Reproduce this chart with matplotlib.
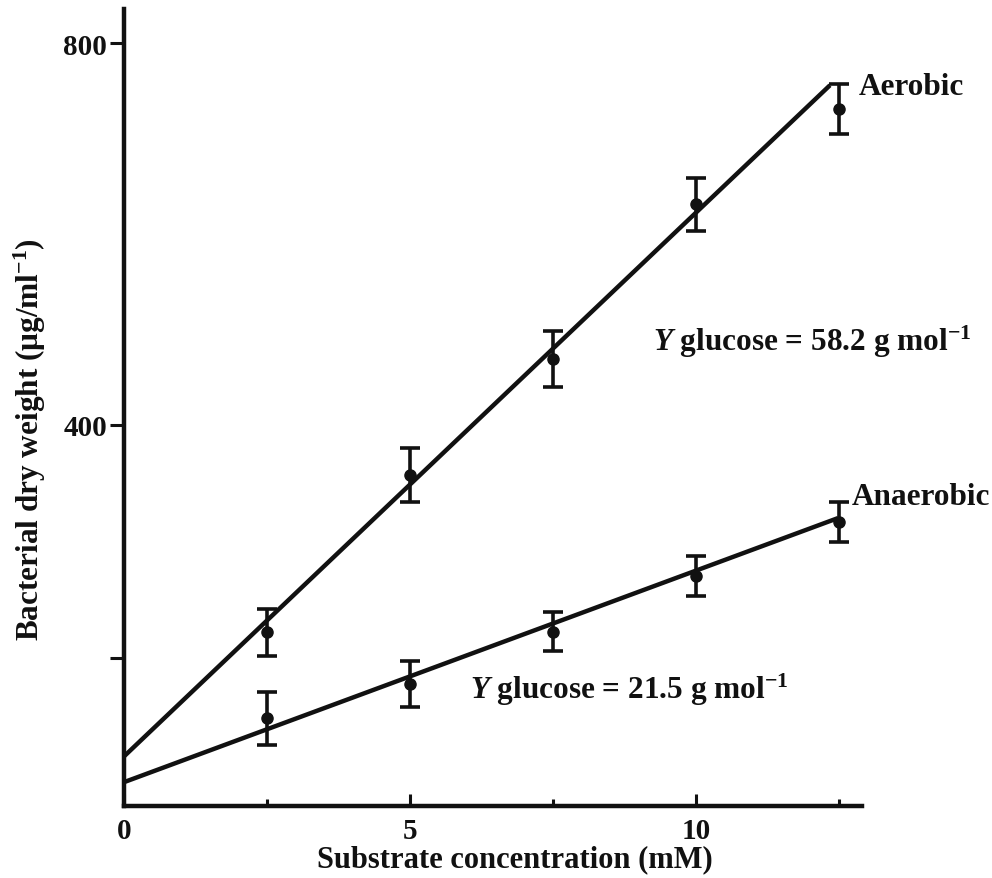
import matplotlib
matplotlib.use("Agg")
import matplotlib.pyplot as plt

# values
conc = [2.5, 5, 7.5, 10, 12.5]                   # mM
aerobic = [182, 347, 469, 631, 731]              # ug/ml
aerobic_err = [25, 28, 29, 28, 26]
anaerobic = [92, 128, 183, 241, 298]
anaerobic_err = [28, 24, 20, 21, 21]

# fitted lines as drawn (end points)
aerobic_fit_x = [0, 12.34]
aerobic_fit_y = [52, 756]
anaerobic_fit_x = [0, 12.48]
anaerobic_fit_y = [25, 302]

yield_labels = [r"$\it{Y}$ glucose = 58.2 g mol$^{-1}$",
                r"$\it{Y}$ glucose = 21.5 g mol$^{-1}$"]

plt.rcParams["font.family"] = ["Liberation Serif", "DejaVu Serif"]
plt.rcParams["font.weight"] = "bold"
plt.rcParams["mathtext.fontset"] = "custom"
plt.rcParams["mathtext.rm"] = "Liberation Serif:bold"
plt.rcParams["mathtext.it"] = "Liberation Serif:italic:bold"

fig = plt.figure(figsize=(9.92, 8.79), dpi=100)
ax = fig.add_axes([124 / 992, 72 / 879, (862 - 124) / 992, (869 - 72) / 879])

ink = "#111111"
for fx, fy in [(aerobic_fit_x, aerobic_fit_y), (anaerobic_fit_x, anaerobic_fit_y)]:
    ax.plot(fx, fy, color=ink, lw=3.2, solid_capstyle="butt")
for y, e in [(aerobic, aerobic_err), (anaerobic, anaerobic_err)]:
    ax.errorbar(conc, y, yerr=e, fmt="o", color=ink, ms=8, elinewidth=2.6,
                capsize=7, capthick=2.6)

ax.set_xlim(0, 12.9)
ax.set_ylim(0, 836)
for s in ["top", "right"]:
    ax.spines[s].set_visible(False)
for s in ["left", "bottom"]:
    ax.spines[s].set_linewidth(3.2)
    ax.spines[s].set_color(ink)

ax.set_xticks([0, 5, 10])
ax.set_xticklabels(["0", "5", "10"])
ax.set_xticks([2.5, 7.5, 12.5], minor=True)
ax.tick_params(axis="x", which="major", direction="in", length=9, width=2.2,
               pad=8, labelsize=21, colors=ink)
ax.tick_params(axis="x", which="minor", direction="in", length=5, width=2.2, colors=ink)
ax.set_yticks([155, 400, 800])
ax.set_yticklabels(["", "400", "800"])
ax.tick_params(axis="y", direction="out", length=10, width=2.2, pad=2,
               labelsize=21, colors=ink)

txt = dict(fontsize=22.5, color=ink, fontweight="bold")
ax.text(12.84, 755, "Aerobic", va="center", ha="left", **txt)
ax.text(12.72, 325, "Anaerobic", va="center", ha="left", **txt)
ax.text(9.25, 488, yield_labels[0], va="center", ha="left", **txt)
ax.text(6.05, 123, yield_labels[1], va="center", ha="left", **txt)

fig.text(30 / 992, 1 - 440 / 879, r"Bacterial dry weight (μg/ml$^{-1}$)",
         rotation=90, ha="center", va="center", **txt)
fig.text(515 / 992, 1 - 860 / 879, "Substrate concentration (mM)",
         ha="center", va="center", fontsize=22, color=ink, fontweight="bold")

fig.savefig("out.png", dpi=100)
